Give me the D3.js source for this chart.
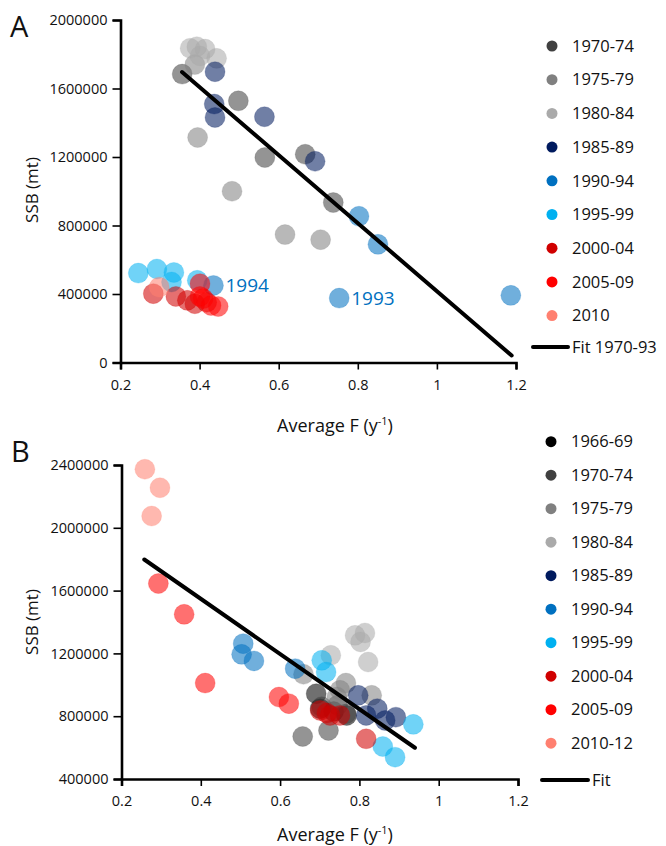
<!DOCTYPE html>
<html>
<head>
<meta charset="utf-8">
<script src="https://cdn.jsdelivr.net/npm/d3@7"></script>
<style>
  body { margin: 0; background: #fff; }
  svg { display: block; font-family: "Open Sans", "Noto Sans", sans-serif; }
</style>
</head>
<body>
<svg id="chart" width="666" height="846"></svg>
<script>
// ---------- Panel A data ----------
const legendA = ["1970-74","1975-79","1980-84","1985-89","1990-94","1995-99","2000-04","2005-09","2010"];
const colorsA = ["#404040","#808080","#aaaaaa","#001a5e","#0070c0","#00b0f0","#d00000","#ff0000","#ff8070"];
const xTicksA = [0.2,0.4,0.6,0.8,1,1.2];
const yTicksA = [0,400000,800000,1200000,1600000,2000000];
// [F, SSB]
const a1970_74 = [[0.356,1684000],[0.498,1528000],[0.565,1197000],[0.667,1216000],[0.738,934000]];
const a1975_79 = [[0.388,1740000],[0.395,1314000],[0.482,1000000],[0.616,747000],[0.706,717000]];
const a1980_84 = [[0.376,1835000],[0.393,1844000],[0.414,1830000],[0.443,1776000],[0.401,1790000]];
const a1985_89 = [[0.439,1698000],[0.437,1509000],[0.439,1431000],[0.564,1435000],[0.692,1175000]];
const a1990_94 = [[0.803,854000],[0.851,690000],[1.187,392000],[0.753,376000],[0.435,450000]];
const a1995_99 = [[0.245,522000],[0.292,546000],[0.335,526000],[0.329,470000],[0.394,480000]];
const a2000_04 = [[0.283,402000],[0.340,386000],[0.369,363000],[0.388,343000],[0.418,352000]];
const a2005_09 = [[0.401,460000],[0.401,386000],[0.409,373000],[0.429,333000],[0.447,327000]];
const a2010    = [[0.298,440000]];
const seriesA = [a1970_74,a1975_79,a1980_84,a1985_89,a1990_94,a1995_99,a2000_04,a2005_09,a2010];
const fitA = [[0.3555,1696000],[1.189,41000]];
const annotA = [{label:"1994", F:0.435, SSB:450000}, {label:"1993", F:0.753, SSB:376000}];

// ---------- Panel B data ----------
const legendB = ["1966-69","1970-74","1975-79","1980-84","1985-89","1990-94","1995-99","2000-04","2005-09","2010-12"];
const colorsB = ["#000000","#404040","#808080","#aaaaaa","#001a5e","#0070c0","#00b0f0","#d00000","#ff0000","#ff8070"];
const xTicksB = [0.2,0.4,0.6,0.8,1,1.2];
const yTicksB = [400000,800000,1200000,1600000,2000000,2400000];
const b1966_69 = [[0.701,848000],[0.768,805000],[0.735,830000],[0.691,943000]];
const b1970_74 = [[0.722,709000],[0.657,671000],[0.766,815000],[0.705,860000],[0.745,870000]];
const b1975_79 = [[0.659,1067000],[0.766,1011000],[0.831,933000],[0.751,965000],[0.743,922000]];
const b1980_84 = [[0.789,1315000],[0.814,1330000],[0.803,1273000],[0.822,1145000],[0.728,1188000]];
const b1985_89 = [[0.797,933000],[0.817,805000],[0.845,848000],[0.865,773000],[0.892,794000]];
const b1990_94 = [[0.507,1262000],[0.503,1194000],[0.534,1152000],[0.638,1103000]];
const b1995_99 = [[0.705,1156000],[0.716,1081000],[0.936,748000],[0.859,607000],[0.890,539000]];
const b2000_04 = [[0.701,837000],[0.726,805000],[0.751,805000],[0.718,820000],[0.817,656000]];
const b2005_09 = [[0.622,880000],[0.597,922000],[0.411,1011000],[0.358,1449000],[0.293,1645000]];
const b2010_12 = [[0.276,2075000],[0.297,2255000],[0.259,2373000]];
const seriesB = [b1966_69,b1970_74,b1975_79,b1980_84,b1985_89,b1990_94,b1995_99,b2000_04,b2005_09,b2010_12];
const fitB = [[0.2575,1798000],[0.940,599000]];

const svg = d3.select("#chart");

function panel(opts) {
  const g = svg.append("g");
  const x = d3.scaleLinear().domain([0.2,1.2]).range(opts.xRange);
  const y = d3.scaleLinear().domain(opts.yDomain).range(opts.yRange);

  const xAxis = d3.axisBottom(x).tickValues(opts.xTicks).tickSize(7).tickPadding(10)
    .tickFormat(d => d3.format("")(d));
  const yAxis = d3.axisLeft(y).tickValues(opts.yTicks).tickSize(8).tickPadding(5)
    .tickFormat(d3.format("d"));
  const gx = g.append("g").attr("transform", `translate(0,${opts.yRange[0]})`).call(xAxis);
  const gy = g.append("g").attr("transform", `translate(${opts.xRange[0]},0)`).call(yAxis);
  [gx, gy].forEach(a => {
    a.select(".domain").attr("stroke", "#000").attr("stroke-width", 2.6);
    a.selectAll(".tick line").attr("stroke", "#000").attr("stroke-width", 1.6);
    a.selectAll(".tick text").attr("fill", "#111").style("font-size", "14.5px")
      .style("font-family", '"Open Sans", sans-serif');
  });

  opts.series.forEach((pts, i) => {
    g.append("g").selectAll("circle").data(pts).join("circle")
      .attr("cx", d => x(d[0])).attr("cy", d => y(d[1])).attr("r", 10)
      .attr("fill", opts.colors[i]).attr("fill-opacity", 0.56)
      .attr("stroke", opts.colors[i]).attr("stroke-opacity", 0.2).attr("stroke-width", 1);
  });

  g.append("path")
    .attr("d", d3.line().x(d => x(d[0])).y(d => y(d[1]))(opts.fit))
    .attr("stroke", "#000").attr("stroke-width", 4).attr("stroke-linecap", "round").attr("fill", "none");

  (opts.annot || []).forEach(a => {
    g.append("text").attr("x", x(a.F) + 12).attr("y", y(a.SSB) + 7)
      .attr("fill", "#0070c0").style("font-size", "19px").text(a.label);
  });

  const xt = g.append("text").attr("x", opts.xTitle[0]).attr("y", opts.xTitle[1])
    .attr("text-anchor", "middle").attr("fill", "#111").style("font-size", "18px");
  xt.append("tspan").text("Average F (y");
  xt.append("tspan").attr("dy", -7).style("font-size", "11px").text("-1");
  xt.append("tspan").attr("dy", 7).text(")");
  g.append("text").attr("transform", `translate(${opts.yTitle[0]},${opts.yTitle[1]}) rotate(-90)`)
    .attr("text-anchor", "middle").attr("fill", "#111").style("font-size", "17px").text("SSB (mt)");

  g.append("text").attr("x", opts.letter[0]).attr("y", opts.letter[1])
    .style("font-size", "29px").attr("fill", "#111").text(opts.letter[2]);

  const lg = g.append("g");
  opts.legend.forEach((lab, i) => {
    const ly = opts.legY0 + i * opts.legStep;
    lg.append("circle").attr("cx", opts.legX).attr("cy", ly).attr("r", 5.5).attr("fill", opts.colors[i]);
    lg.append("text").attr("x", opts.legX + 20).attr("y", ly).attr("dy", "0.35em")
      .attr("fill", "#111").style("font-size", "16.5px").text(lab);
  });
  lg.append("line").attr("x1", opts.fitLeg[0]).attr("x2", opts.fitLeg[1])
    .attr("y1", opts.fitLeg[2]).attr("y2", opts.fitLeg[2])
    .attr("stroke", "#000").attr("stroke-width", 4).attr("stroke-linecap", "round");
  lg.append("text").attr("x", opts.fitLeg[1] + 4).attr("y", opts.fitLeg[2]).attr("dy", "0.35em")
    .attr("fill", "#111").style("font-size", "16.5px").text(opts.fitLabel);
}

panel({
  xRange: [120.5, 516], yDomain: [0, 2000000], yRange: [362.5, 20],
  xTicks: xTicksA, yTicks: yTicksA, series: seriesA, colors: colorsA, fit: fitA, annot: annotA,
  xTitle: [335, 432], yTitle: [38, 190], letter: [10, 37, "A"],
  legend: legendA, legX: 552, legY0: 46, legStep: 33.7, fitLeg: [533, 568, 347], fitLabel: "Fit 1970-93"
});
panel({
  xRange: [121.5, 518], yDomain: [400000, 2400000], yRange: [779, 465],
  xTicks: xTicksB, yTicks: yTicksB, series: seriesB, colors: colorsB, fit: fitB,
  xTitle: [335, 841], yTitle: [38, 622], letter: [11, 462, "B"],
  legend: legendB, legX: 551, legY0: 441.7, legStep: 33.5, fitLeg: [542, 588, 780], fitLabel: "Fit"
});
</script>
</body>
</html>
